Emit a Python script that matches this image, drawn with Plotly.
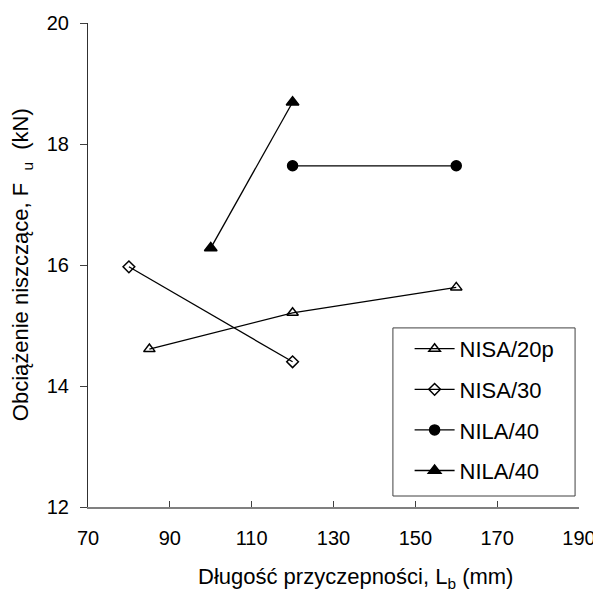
import plotly.graph_objects as go

# Data
nisa20p_x = [85, 120, 160]
nisa20p_y = [14.61, 15.21, 15.63]
nisa30_x = [80, 120]
nisa30_y = [15.97, 14.40]
nila40c_x = [120, 160]
nila40c_y = [17.64, 17.64]
nila40t_x = [100, 120]
nila40t_y = [16.28, 18.69]

x_ticks = [70, 90, 110, 130, 150, 170, 190]
y_ticks = [12, 14, 16, 18, 20]

FONT = "Liberation Sans, Arial, sans-serif"

fig = go.Figure()
series = [
    ("NISA/20p", nisa20p_x, nisa20p_y, "triangle-up-open", 10),
    ("NISA/30", nisa30_x, nisa30_y, "diamond-open", 9),
    ("NILA/40", nila40c_x, nila40c_y, "circle", 10),
    ("NILA/40", nila40t_x, nila40t_y, "triangle-up", 11),
]
for i, (name, xs, ys, sym, sz) in enumerate(series):
    fig.add_trace(go.Scatter(
        x=xs, y=ys, name=name, mode="lines+markers",
        line=dict(color="black", width=1.3),
        marker=dict(symbol=sym, size=sz, color="black",
                    line=dict(color="black", width=1.5)),
        legendgroup=f"g{i}",
    ))

# legend frame
fig.add_shape(type="rect", xref="paper", yref="paper",
              x0=0.621, x1=0.992, y0=0.0227, y1=0.370,
              line=dict(color="#404040", width=1), fillcolor="white",
              layer="above")

fig.update_layout(
    width=593, height=583,
    margin=dict(l=80, r=22, t=15, b=84),
    paper_bgcolor="white", plot_bgcolor="white",
    font=dict(family=FONT, size=20, color="black"),
    showlegend=True,
    legend=dict(
        x=0.655, y=0.370, xanchor="left", yanchor="top",
        bgcolor="rgba(0,0,0,0)", borderwidth=0,
        font=dict(family=FONT, size=22, color="black"),
        tracegroupgap=9,
        itemwidth=40,
    ),
    xaxis=dict(
        range=[70, 190], tickvals=x_ticks, ticktext=[str(v) for v in x_ticks],
        showgrid=False, zeroline=False, automargin=False,
        showline=True, linecolor="#808080", linewidth=1.5,
        ticks="inside", ticklen=6, tickcolor="#404040", tickwidth=1,
        ticklabelstandoff=12,
        tickfont=dict(size=20),
    ),
    yaxis=dict(
        range=[12, 20], tickvals=y_ticks, ticktext=[str(v) for v in y_ticks],
        showgrid=False, zeroline=False, automargin=False,
        showline=True, linecolor="#303030", linewidth=1,
        ticks="outside", ticklen=7, tickcolor="#404040", tickwidth=1,
        ticklabelstandoff=7,
        tickfont=dict(size=20),
    ),
)

fig.add_annotation(
    text="Obciążenie niszczące, F\u00a0\u00a0<sub>u</sub>\u00a0\u00a0(kN)",
    xref="paper", yref="paper", x=-0.134, y=0.5, textangle=-90,
    xanchor="center", yanchor="middle", showarrow=False,
    font=dict(family=FONT, size=22, color="black"),
)
fig.add_annotation(
    text="Długość przyczepności, L<sub>b</sub> (mm)",
    xref="paper", yref="paper", x=0.544, y=-0.147,
    xanchor="center", yanchor="middle", showarrow=False,
    font=dict(family=FONT, size=22, color="black"),
)

fig.write_html("out.html")
